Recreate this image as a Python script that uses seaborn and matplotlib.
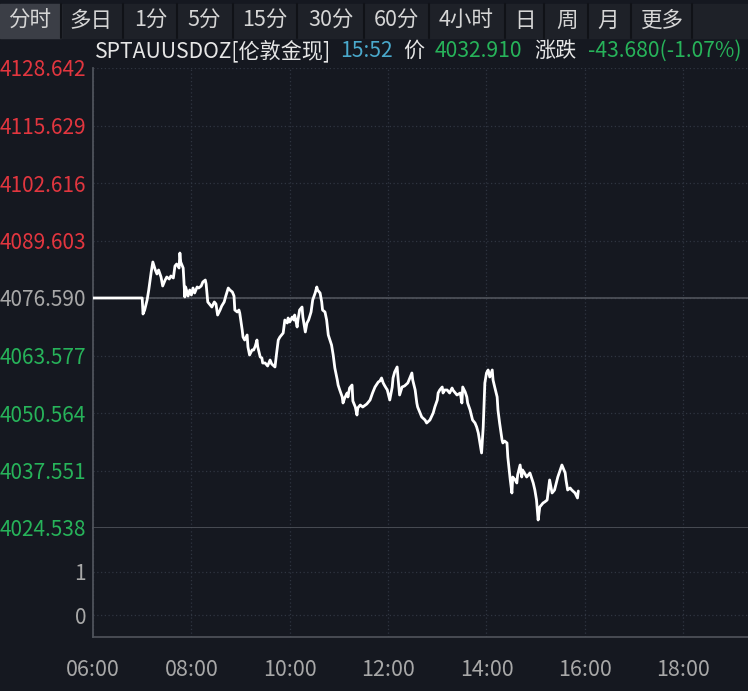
import pandas as pd
import matplotlib.pyplot as plt
from matplotlib.patches import Rectangle
import seaborn as sns

# 分时数据：06:00 起的分钟数 / 价格
minutes = [0, 60, 61, 63, 66, 68, 71, 73, 76, 78,
           80, 83, 85, 88, 90, 93, 95, 98, 100, 102,
           105, 106, 107, 110, 112, 113, 116, 118, 120, 122,
           124, 127, 129, 132, 134, 137, 138, 140, 143, 145,
           148, 150, 152, 155, 157, 160, 162, 165, 167, 170,
           172, 173, 176, 178, 179, 182, 183, 185, 188, 189,
           191, 194, 196, 198, 200, 201, 204, 206, 207, 210,
           213, 216, 218, 222, 224, 226, 228, 232, 234, 237,
           238, 240, 243, 245, 246, 249, 250, 252, 255, 256,
           259, 261, 263, 266, 268, 271, 273, 274, 277, 279,
           280, 283, 285, 287, 289, 291, 293, 295, 298, 299,
           301, 304, 305, 307, 310, 311, 313, 316, 317, 320,
           322, 323, 326, 329, 334, 338, 341, 344, 348, 350,
           352, 354, 356, 359, 362, 365, 366, 368, 371, 372,
           374, 377, 380, 384, 387, 389, 390, 393, 395, 396,
           399, 401, 405, 407, 411, 415, 417, 420, 421, 423,
           426, 427, 429, 432, 435, 438, 439, 444, 448, 450,
           451, 454, 456, 457, 460, 463, 466, 468, 470, 472,
           474, 476, 478, 480, 482, 484, 487, 488, 490, 493,
           494, 496, 499, 500, 502, 505, 506, 509, 511, 512,
           515, 517, 518, 521, 523, 524, 527, 529, 533, 537,
           539, 541, 543, 545, 549, 551, 554, 557, 560, 563,
           567, 570, 572, 576, 577, 579, 582, 584, 588, 591, 592]
price = [4076.59, 4076.59, 4072.97, 4073.87, 4076.14, 4078.40, 4082.47, 4084.74, 4082.93, 4082.02,
         4082.93, 4081.34, 4079.31, 4080.66, 4081.34, 4080.89, 4081.57, 4081.12, 4083.83, 4084.28,
         4083.38, 4086.77, 4084.74, 4083.38, 4076.82, 4079.08, 4077.04, 4078.40, 4077.27, 4078.85,
         4077.72, 4079.08, 4078.85, 4079.31, 4080.21, 4080.66, 4079.76, 4075.69, 4075.01, 4074.55,
         4075.69, 4075.23, 4072.74, 4073.87, 4074.78, 4075.69, 4077.04, 4078.85, 4078.40, 4077.95,
         4077.04, 4073.87, 4073.42, 4073.87, 4073.19, 4069.35, 4067.76, 4067.08, 4068.22, 4065.50,
         4063.69, 4064.82, 4064.82, 4065.73, 4067.08, 4065.50, 4063.24, 4063.01, 4061.88, 4061.88,
         4061.20, 4062.56, 4061.66, 4060.98, 4064.14, 4067.08, 4067.76, 4068.67, 4071.61, 4070.93,
         4072.06, 4071.16, 4072.29, 4071.61, 4072.74, 4070.03, 4071.61, 4073.87, 4074.55, 4072.29,
         4068.90, 4070.93, 4071.61, 4073.42, 4076.14, 4077.72, 4079.08, 4078.40, 4077.72, 4075.69,
         4073.87, 4073.42, 4071.61, 4068.22, 4067.08, 4065.95, 4063.69, 4060.75, 4058.03, 4056.90,
         4055.77, 4054.19, 4052.83, 4053.96, 4055.09, 4054.19, 4056.22, 4056.90, 4053.28, 4051.92,
         4050.11, 4051.70, 4052.38, 4051.92, 4052.60, 4053.51, 4055.09, 4056.45, 4057.58, 4057.81,
         4058.49, 4057.36, 4056.68, 4055.77, 4053.51, 4056.45, 4058.49, 4059.85, 4060.98, 4058.71,
         4054.64, 4056.45, 4056.68, 4057.36, 4058.71, 4059.62, 4058.03, 4055.77, 4052.83, 4051.92,
         4050.57, 4049.66, 4048.98, 4048.30, 4048.98, 4050.57, 4051.92, 4053.51, 4055.09, 4055.77,
         4056.45, 4055.09, 4055.77, 4055.77, 4055.09, 4056.22, 4055.77, 4054.64, 4055.09, 4052.83,
         4056.45, 4055.32, 4054.19, 4052.83, 4051.24, 4048.98, 4048.30, 4047.40, 4046.04, 4043.78,
         4041.52, 4047.40, 4057.36, 4059.62, 4060.30, 4058.71, 4060.30, 4058.03, 4056.45, 4054.19,
         4051.24, 4048.30, 4044.46, 4043.78, 4044.23, 4043.78, 4040.61, 4035.41, 4032.46, 4036.08,
         4035.41, 4034.73, 4036.54, 4038.80, 4036.08, 4037.67, 4036.76, 4036.08, 4036.99, 4034.73,
         4033.14, 4030.88, 4026.35, 4029.30, 4030.20, 4030.43, 4030.88, 4035.41, 4032.46, 4033.14,
         4036.08, 4037.67, 4038.80, 4036.99, 4035.41, 4033.14, 4033.60, 4033.14, 4032.46, 4031.33, 4032.91]

prev_close = 4076.590
price_levels = [4128.642, 4115.629, 4102.616, 4089.603, 4076.590,
                4063.577, 4050.564, 4037.551, 4024.538]
vol_levels = [0, 1]
x_ticks = [0, 120, 240, 360, 480, 600, 720]
x_labels = ["06:00", "08:00", "10:00", "12:00", "14:00", "16:00", "18:00"]
tabs = ["分时", "多日", "1分", "5分", "15分", "30分", "60分", "4小时", "日", "周", "月", "更多"]

BG = "#151820"
GRID = "#2f3540"
AXIS = "#50545c"
RED = "#e2363f"
GREEN = "#27b35a"
GRAY = "#a8a8a8"

sns.set_theme(style="dark", rc={"axes.facecolor": BG, "figure.facecolor": BG})
plt.rcParams["font.family"] = ["Noto Sans CJK SC", "DejaVu Sans"]

df = pd.DataFrame({"minute": minutes, "price": price})

W, H = 748, 691
fig = plt.figure(figsize=(7.48, 6.91), dpi=100)

# 顶部标签栏
fig.patches.append(Rectangle((0, 1 - 38 / H), 1, 34 / H, transform=fig.transFigure,
                             color="#1e2128", zorder=0))
fig.patches.append(Rectangle((0, 1 - 38 / H), 61 / W, 34 / H, transform=fig.transFigure,
                             color="#3b3e46", zorder=1))
tab_x = [30, 91, 151, 204, 265, 331, 396, 466, 525, 567, 608, 662]
for tx, t in zip(tab_x, tabs):
    fig.text(tx / W, 1 - 21 / H, t, ha="center", va="center", fontsize=15.5, color="#d6d6d6")
for sx in [61, 123, 177, 233, 297, 364, 429, 505, 544, 588, 631, 692]:
    fig.add_artist(plt.Line2D([sx / W, sx / W], [1 - 38 / H, 1 - 4 / H],
                              transform=fig.transFigure, color="#101217", lw=1.5))

# 标题行
title_parts = [(95, "SPTAUUSDOZ[伦敦金现]", "#e6e6e6"), (340, "15:52", "#4aa9cc"),
               (403, "价", "#e6e6e6"), (435, "4032.910", GREEN),
               (534, "涨跌", "#e6e6e6"), (588, "-43.680(-1.07%)", GREEN)]
for tx, t, c in title_parts:
    fig.text(tx / W, 1 - 51 / H, t, ha="left", va="center", fontsize=15.2, color=c)

ax = fig.add_axes([93 / W, 1 - 528 / H, 1 - 93 / W, (528 - 68) / H])
axv = fig.add_axes([93 / W, 1 - 637 / H, 1 - 93 / W, (637 - 528) / H], sharex=ax)

sns.lineplot(data=df, x="minute", y="price", ax=ax, color="white", lw=2.0, zorder=5)

ax.set_xlim(0, 799)
ax.set_ylim(price_levels[-1], price_levels[0])
ax.set_yticks(price_levels)
ax.set_yticklabels([f"{v:.3f}" for v in price_levels], fontsize=15)
for lab, v in zip(ax.get_yticklabels(), price_levels):
    lab.set_color(RED if v > prev_close + 0.001 else (GREEN if v < prev_close - 0.001 else GRAY))
ax.set_xticks(x_ticks)
ax.tick_params(axis="x", labelbottom=False, length=0)
ax.tick_params(axis="y", length=0, pad=5)
ax.grid(True, ls=(0, (1, 2)), color=GRID, lw=0.9)
ax.axhline(prev_close, color=AXIS, lw=1.2, zorder=3)
ax.set_xlabel("")
ax.set_ylabel("")
for side in ["top", "right"]:
    ax.spines[side].set_visible(False)
ax.spines["left"].set_color(AXIS)
ax.spines["bottom"].set_color(AXIS)
ax.spines["bottom"].set_linewidth(1.2)

# 成交量区（无数据）
axv.set_ylim(-0.51, 2.02)
axv.set_yticks(vol_levels)
axv.set_yticklabels([str(v) for v in vol_levels], fontsize=15, color=GRAY)
axv.set_xticks(x_ticks)
axv.set_xticklabels(x_labels, fontsize=15.5, color=GRAY)
axv.tick_params(axis="both", length=0)
axv.tick_params(axis="y", pad=5)
axv.tick_params(axis="x", pad=16)
axv.grid(True, ls=(0, (1, 2)), color=GRID, lw=0.9)
for side in ["top", "right"]:
    axv.spines[side].set_visible(False)
axv.spines["left"].set_color(AXIS)
axv.spines["bottom"].set_color(AXIS)
axv.spines["bottom"].set_linewidth(1.2)

fig.savefig("out.png", dpi=100, facecolor=BG)
